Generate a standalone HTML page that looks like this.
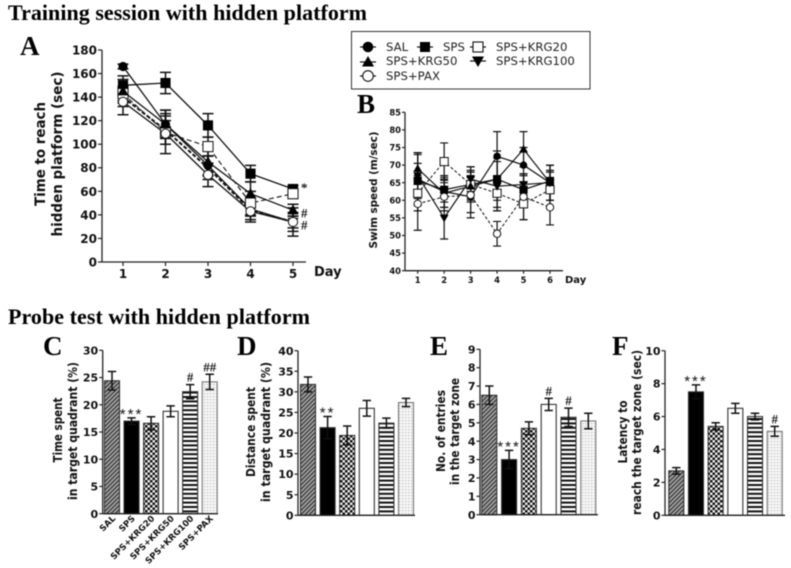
<!DOCTYPE html>
<html>
<head>
<meta charset="utf-8">
<title>Training session and probe test</title>
<style>
html,body{margin:0;padding:0;background:#fff;}
svg{display:block;filter:blur(.5px);}
.head{font-family:"Liberation Serif",serif;font-weight:bold;fill:#000;}
.tick{font-family:"DejaVu Sans",sans-serif;font-weight:bold;fill:#111;}
.leg{font-family:"DejaVu Sans",sans-serif;font-size:11.7px;fill:#222;}
</style>
</head>
<body>
<svg id="fig" xmlns="http://www.w3.org/2000/svg" width="791" height="568" viewBox="0 0 791 568">
<defs>
<pattern id="p-hatch" width="3" height="3" patternUnits="userSpaceOnUse" patternTransform="rotate(-45)"><rect width="3" height="3" fill="#aaa"/><rect width="3" height="1.3" fill="#333"/></pattern>
<pattern id="p-solid" width="4" height="4" patternUnits="userSpaceOnUse"><rect width="4" height="4" fill="#000"/></pattern>
<pattern id="p-check" width="5" height="5" patternUnits="userSpaceOnUse"><rect width="5" height="5" fill="#eee"/><rect width="2.5" height="2.5" fill="#111"/><rect x="2.5" y="2.5" width="2.5" height="2.5" fill="#111"/></pattern>
<pattern id="p-white" width="4" height="4" patternUnits="userSpaceOnUse"><rect width="4" height="4" fill="#fff"/></pattern>
<pattern id="p-stripe" width="4.4" height="4.4" patternUnits="userSpaceOnUse"><rect width="4.4" height="4.4" fill="#fff"/><rect width="4.4" height="2" fill="#111"/></pattern>
<pattern id="p-dots" width="3" height="3" patternUnits="userSpaceOnUse"><rect width="3" height="3" fill="#f6f6f6"/><rect width="1.2" height="1.2" fill="#bbb"/></pattern>
</defs>

<text class="head" x="8" y="20" font-size="22" textLength="359">Training session with hidden platform</text>
<text class="head" x="8" y="324" font-size="22" textLength="302">Probe test with hidden platform</text>

<text class="head" x="20" y="55" font-size="27">A</text>
<text class="head" x="357" y="113" font-size="27">B</text>
<text class="head" x="43" y="355" font-size="27">C</text>
<text class="head" x="237" y="355" font-size="27">D</text>
<text class="head" x="430" y="355" font-size="27">E</text>
<text class="head" x="612" y="355" font-size="27">F</text>

<g>
<rect x="351.5" y="31.5" width="238.5" height="57.5" fill="#fff" stroke="#333" stroke-width="1"/>
<g><path d="M360 47H376" stroke="#111" stroke-width="1.2"/><circle cx="368" cy="47" r="5.3" fill="#000"/><text class="leg" x="386" y="51">SAL</text></g>
<g><path d="M417 47H433" stroke="#111" stroke-width="1.2"/><rect x="420" y="42" width="10" height="10" fill="#000"/><text class="leg" x="443" y="51">SPS</text></g>
<g><path d="M470 47H486" stroke="#111" stroke-width="1.2"/><rect x="473" y="42" width="10" height="10" fill="#fff" stroke="#111" stroke-width="1.1"/><text class="leg" x="496" y="51">SPS+KRG20</text></g>
<g><path d="M360 62H376" stroke="#111" stroke-width="1.2"/><path d="M368 56L374 66.5H362Z" fill="#000"/><text class="leg" x="386" y="65">SPS+KRG50</text></g>
<g><path d="M470 61H486" stroke="#111" stroke-width="1.2"/><path d="M478 67L472 56.5H484Z" fill="#000"/><text class="leg" x="496" y="65">SPS+KRG100</text></g>
<g><path d="M360 76H376" stroke="#111" stroke-width="1.2"/><circle cx="368" cy="76" r="5.3" fill="#fff" stroke="#111" stroke-width="1.1"/><text class="leg" x="386" y="80">SPS+PAX</text></g>
</g>
</svg>

<script>
// Panel A: time to reach hidden platform
const daysA = [1, 2, 3, 4, 5];
const ticksA = [0, 20, 40, 60, 80, 100, 120, 140, 160, 180];
const salA = [166, 117, 82, 45, 34];
const salErrA = [2, 12, 8, 6, 5];
const spsA = [150, 152, 116, 75, 62];
const spsErrA = [8, 9, 10, 7, 3];
const krg20A = [143, 110, 98, 50, 58];
const krg20ErrA = [6, 10, 8, 10, 4];
const krg50A = [145, 117, 85, 58, 44];
const krg50ErrA = [10, 12, 12, 10, 5];
const krg100A = [140, 112, 80, 44, 34];
const krg100ErrA = [8, 12, 10, 8, 8];
const paxA = [136, 109, 74, 43, 34];
const paxErrA = [11, 17, 10, 9, 12];
const notesA = ['*', '#', '#'];
const noteValuesA = [63, 41, 31];

// Panel B: swim speed
const daysB = [1, 2, 3, 4, 5, 6];
const ticksB = [40, 45, 50, 55, 60, 65, 70, 75, 80, 85];
const salB = [66, 62.5, 61, 72.5, 70, 65];
const salErrB = [7.5, 4.5, 6, 7, 5, 5];
const spsB = [65.5, 63, 64.5, 66, 63, 65.5];
const spsErrB = [5, 3.5, 4, 6, 4, 3];
const krg20B = [62, 71, 64.5, 62, 59, 63];
const krg20ErrB = [5, 5.3, 5, 5, 4.5, 5];
const krg50B = [69, 62, 64, 66, 74.5, 65];
const krg50ErrB = [4.5, 4, 4, 8, 5, 5];
const krg100B = [67, 55, 66, 64, 64.5, 65];
const krg100ErrB = [6, 6, 3.5, 7, 3, 5];
const paxB = [59, 61, 61.5, 50.5, 61, 58];
const paxErrB = [7.5, 4, 5, 3.5, 6.5, 5];

// Panels C-F: probe test bars
const groups = ['SAL', 'SPS', 'SPS+KRG20', 'SPS+KRG50', 'SPS+KRG100', 'SPS+PAX'];
const ticksC = [0, 5, 10, 15, 20, 25, 30];
const valuesC = [24.4, 17, 16.6, 18.8, 22.4, 24.2];
const errorsC = [1.7, 0.6, 1.2, 1.0, 1.3, 1.4];
const notesC = ['', '***', '', '', '#', '##'];
const ticksD = [0, 5, 10, 15, 20, 25, 30, 35, 40];
const valuesD = [31.8, 21.3, 19.4, 26, 22.4, 27.4];
const errorsD = [1.8, 2.7, 2.3, 1.9, 1.2, 1.0];
const notesD = ['', '**', '', '', '', ''];
const ticksE = [0, 1, 2, 3, 4, 5, 6, 7, 8, 9];
const valuesE = [6.5, 3, 4.7, 6, 5.3, 5.1];
const errorsE = [0.5, 0.5, 0.35, 0.33, 0.5, 0.42];
const notesE = ['', '***', '', '#', '#', ''];
const ticksF = [0, 2, 4, 6, 8, 10];
const valuesF = [2.7, 7.5, 5.4, 6.5, 6, 5.1];
const errorsF = [0.2, 0.42, 0.22, 0.3, 0.2, 0.3];
const notesF = ['', '***', '', '', '', '#'];

const NS = 'http://www.w3.org/2000/svg';
const fig = document.getElementById('fig');

function mk(parent, tag, attrs, txt) {
  const el = document.createElementNS(NS, tag);
  for (const k in attrs) el.setAttribute(k, attrs[k]);
  if (txt !== undefined) el.textContent = txt;
  parent.appendChild(el);
  return el;
}
function linear(d0, d1, r0, r1) {
  return function (v) { return r0 + (v - d0) * (r1 - r0) / (d1 - d0); };
}
function yAxis(g, x, y, ticks, fs, len) {
  const ax = mk(g, 'line', {x1: x, x2: x, y1: y(ticks[0]), y2: y(ticks[ticks.length - 1]), stroke: '#222', 'stroke-width': 1.3});
  
  
  ticks.forEach(function (t) {
    const m = mk(g, 'line', {x1: x - len, x2: x, y1: y(t), y2: y(t), stroke: '#222', 'stroke-width': 1.2});
    
    
    const l = mk(g, 'text', {'class': 'tick', x: x - len - 1, y: y(t) + fs * 0.37, 'font-size': fs, 'text-anchor': 'end'}, String(t));
    
    
  });
}
function axisTitle(g, x, cy, text, fs, len) {
  const t = mk(g, 'text', {'class': 'tick', x: 0, y: 0, 'font-size': fs, 'text-anchor': 'middle', textLength: len, lengthAdjust: 'spacingAndGlyphs', transform: 'translate(' + x + ' ' + cy + ') rotate(-90)'}, text);
  
  
}
function marker(g, kind, x, y, s) {
  const q = s * 1.1;
  let el;
  if (kind === 'sal') el = mk(g, 'circle', {cx: x, cy: y, r: s, fill: '#000'});
  if (kind === 'sps') el = mk(g, 'rect', {x: x - q, y: y - q, width: 2 * q, height: 2 * q, fill: '#000'});
  if (kind === 'krg20') el = mk(g, 'rect', {x: x - q, y: y - q, width: 2 * q, height: 2 * q, fill: '#fff', stroke: '#111', 'stroke-width': 1});
  if (kind === 'krg50') el = mk(g, 'path', {d: 'M' + x + ' ' + (y - s * 1.2) + 'L' + (x + s * 1.2) + ' ' + (y + s * 0.9) + 'H' + (x - s * 1.2) + 'Z', fill: '#000'});
  if (kind === 'krg100') el = mk(g, 'path', {d: 'M' + x + ' ' + (y + s * 1.2) + 'L' + (x + s * 1.2) + ' ' + (y - s * 0.9) + 'H' + (x - s * 1.2) + 'Z', fill: '#000'});
  if (kind === 'pax') el = mk(g, 'circle', {cx: x, cy: y, r: s, fill: '#fff', stroke: '#111', 'stroke-width': 1});
  
  
}
function series(g, kind, xs, vals, errs, x, y, o) {
  const pts = xs.map(function (d, i) { return x(d) + ',' + y(vals[i]); }).join(' ');
  const line = mk(g, 'polyline', {points: pts, fill: 'none', stroke: '#111', 'stroke-width': o.w, 'stroke-dasharray': o.dash || 'none'});
  
  
  xs.forEach(function (d, i) {
    const e = mk(g, 'path', {d: 'M' + x(d) + ' ' + y(vals[i] - errs[i]) + 'V' + y(vals[i] + errs[i]) +
      'M' + (x(d) - o.cap) + ' ' + y(vals[i] - errs[i]) + 'h' + (2 * o.cap) +
      'M' + (x(d) - o.cap) + ' ' + y(vals[i] + errs[i]) + 'h' + (2 * o.cap),
      stroke: '#111', 'stroke-width': o.ew, fill: 'none'});
    
    
  });
}
function points(g, kind, xs, vals, x, y, s) {
  xs.forEach(function (d, i) { marker(g, kind, x(d), y(vals[i]), s); });
}
function lineChart(name, xs, xAxisPos, yTicks, all, x, y, o) {
  const g = mk(fig, 'g', {});
  
  
  yAxis(g, o.x0, y, yTicks, o.fs, o.tl);
  const xa = mk(g, 'line', {x1: o.x0, x2: o.x1, y1: xAxisPos, y2: xAxisPos, stroke: '#222', 'stroke-width': 1.3});
  
  
  xs.forEach(function (d) {
    const m = mk(g, 'line', {x1: x(d), x2: x(d), y1: xAxisPos, y2: xAxisPos + o.tl, stroke: '#222', 'stroke-width': 1.2});
    
    
    const l = mk(g, 'text', {'class': 'tick', x: x(d), y: o.labelY, 'font-size': o.fs, 'text-anchor': 'middle'}, String(d));
    
    
  });
  all.forEach(function (s) { series(g, s.kind, xs, s.vals, s.errs, x, y, {w: s.w, dash: s.dash, cap: o.cap, ew: o.ew}); });
  all.forEach(function (s) { points(g, s.kind, xs, s.vals, x, y, o.ms); });
  return g;
}

// Panel A
const xA = linear(1, 5, 123, 293);
const yA = linear(0, 180, 262, 50);
const gA = lineChart('time-to-platform-chart', daysA, 262, ticksA, [
  {kind: 'krg100', vals: krg100A, errs: krg100ErrA, w: 2, dash: '4 2'},
  {kind: 'sal', vals: salA, errs: salErrA, w: 1.3},
  {kind: 'sps', vals: spsA, errs: spsErrA, w: 1.3},
  {kind: 'krg20', vals: krg20A, errs: krg20ErrA, w: 1.1, dash: '5 3'},
  {kind: 'krg50', vals: krg50A, errs: krg50ErrA, w: 1.3},
  {kind: 'pax', vals: paxA, errs: paxErrA, w: 1.3}
], xA, yA, {x0: 102, x1: 306, fs: 12, tl: 4, labelY: 278, cap: 5.5, ew: 1.5, ms: 4.6});
axisTitle(gA, 45, 154, 'Time to reach', 14, 104);
axisTitle(gA, 62, 154, 'hidden platform (sec)', 14, 165);
const dayA = mk(gA, 'text', {'class': 'tick', x: 314, y: 276, 'font-size': 13}, 'Day');


notesA.forEach(function (n, i) {
  const t = mk(gA, 'text', {x: 301, y: yA(noteValuesA[i]) + 4, 'font-family': 'Liberation Serif, serif', 'font-weight': 'bold', 'font-size': 13, fill: '#111'}, n);
  
  
});

// Panel B
const xB = linear(1, 6, 417.7, 550);
const yB = linear(40, 85, 270.7, 112.3);
const gB = lineChart('swim-speed-chart', daysB, 270.7, ticksB, [
  {kind: 'sal', vals: salB, errs: salErrB, w: 1.2},
  {kind: 'sps', vals: spsB, errs: spsErrB, w: 1.2},
  {kind: 'krg20', vals: krg20B, errs: krg20ErrB, w: 1, dash: '3 2'},
  {kind: 'krg50', vals: krg50B, errs: krg50ErrB, w: 1.2},
  {kind: 'krg100', vals: krg100B, errs: krg100ErrB, w: 1.2},
  {kind: 'pax', vals: paxB, errs: paxErrB, w: 1, dash: '3 2'}
], xB, yB, {x0: 405, x1: 563, fs: 8.4, tl: 3, labelY: 283, cap: 4, ew: 1.2, ms: 3.7});
axisTitle(gB, 377, 190, 'Swim speed (m/sec)', 10.5, 117);
const dayB = mk(gB, 'text', {'class': 'tick', x: 565, y: 283, 'font-size': 10}, 'Day');



// Bars
const fills = ['p-hatch', 'p-solid', 'p-check', 'p-white', 'p-stripe', 'p-dots'];
function barChart(name, values, errors, notes, ticks, o) {
  const g = mk(fig, 'g', {});
  
  
  const y = linear(ticks[0], ticks[ticks.length - 1], o.y0, o.y1);
  const x = linear(0, groups.length - 1, o.first, o.last);
  values.forEach(function (v, i) {
    const b = mk(g, 'rect', {x: x(i) - 7.5, y: y(v), width: 15, height: y(0) - y(v), fill: 'url(#' + fills[i] + ')', stroke: i === 5 ? '#777' : '#333', 'stroke-width': 1.1});
    
    
    const e = mk(g, 'path', {d: 'M' + x(i) + ' ' + y(v - errors[i]) + 'V' + y(v + errors[i]) +
      'M' + (x(i) - 4.2) + ' ' + y(v - errors[i]) + 'h8.4' +
      'M' + (x(i) - 4.2) + ' ' + y(v + errors[i]) + 'h8.4',
      stroke: '#111', 'stroke-width': 1.5, fill: 'none'});
    
    
    if (notes[i]) {
      const star = notes[i].charAt(0) === '*';
      const n = mk(g, 'text', {x: x(i), y: y(v + errors[i]) + (star ? 1 : -3), 'text-anchor': 'middle', 'font-family': star ? 'Liberation Sans, sans-serif' : 'Liberation Serif, serif', 'font-weight': star ? 'normal' : 'bold', 'font-size': star ? 15 : 13, 'letter-spacing': star ? 2 : 0, fill: '#111'}, notes[i]);
      
      
    }
  });
  yAxis(g, o.x0, y, ticks, 11, 3.5);
  const xa = mk(g, 'line', {x1: o.x0, x2: o.x1, y1: o.y0, y2: o.y0, stroke: '#222', 'stroke-width': 1.3});
  
  
  return {g: g, x: x};
}

const chartC = barChart('time-in-quadrant-chart', valuesC, errorsC, notesC, ticksC, {x0: 102.7, x1: 218, y0: 513.7, y1: 350.3, first: 112, last: 209.7});
axisTitle(chartC.g, 62, 430, 'Time spent', 12, 65);
axisTitle(chartC.g, 77, 431, 'in target quadrant (%)', 12, 138);
groups.forEach(function (name, i) {
  const px = chartC.x(i) + 4;
  const t = mk(chartC.g, 'text', {'class': 'tick', x: 0, y: 0, 'font-size': 8.6, 'text-anchor': 'end', transform: 'translate(' + px + ' 519) rotate(-45)'}, name);
  
  
});

const chartD = barChart('distance-in-quadrant-chart', valuesD, errorsD, notesD, ticksD, {x0: 298, x1: 415, y0: 515.3, y1: 350.7, first: 308, last: 406});
axisTitle(chartD.g, 255, 432, 'Distance spent', 12, 90);
axisTitle(chartD.g, 270, 432, 'in target quadrant (%)', 12, 140);

const chartE = barChart('entries-in-zone-chart', valuesE, errorsE, notesE, ticksE, {x0: 480, x1: 598, y0: 514.7, y1: 349.3, first: 489.3, last: 588.3});
axisTitle(chartE.g, 445, 431, 'No. of entries', 12, 82);
axisTitle(chartE.g, 459, 431.5, 'in the target zone', 12, 107);

const chartF = barChart('latency-to-zone-chart', valuesF, errorsF, notesF, ticksF, {x0: 665, x1: 785, y0: 515.3, y1: 350.7, first: 676.3, last: 774.7});
axisTitle(chartF.g, 627, 432, 'Latency to', 12, 63);
axisTitle(chartF.g, 641, 432.5, 'reach the target zone (sec)', 12, 165);
</script>
</body>
</html>
